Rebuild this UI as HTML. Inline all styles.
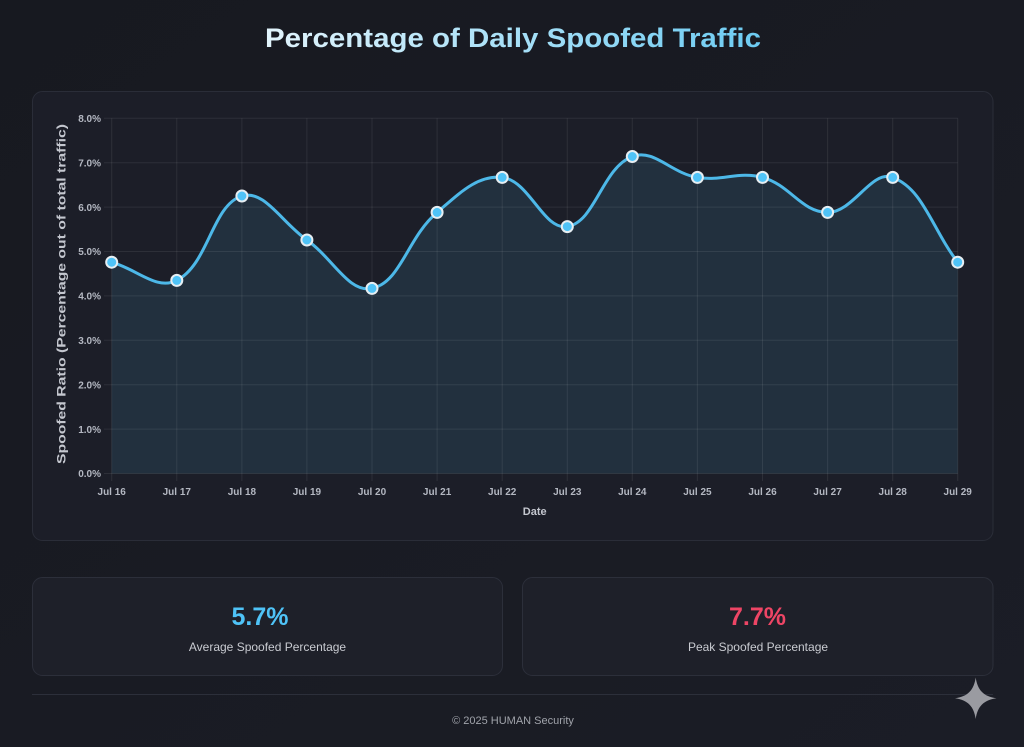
<!DOCTYPE html>
<html>
<head>
<meta charset="utf-8">
<style>
html,body{margin:0;padding:0;background:#181a22;}
body{width:1024px;height:747px;overflow:hidden;}
svg{display:block;}
</style>
</head>
<body>
<svg width="1024" height="747" viewBox="0 0 1024 747" xmlns="http://www.w3.org/2000/svg">
  <defs>
    <linearGradient id="bg" x1="0" y1="0" x2="1" y2="1">
      <stop offset="0" stop-color="#171920"/>
      <stop offset="1" stop-color="#1b1d26"/>
    </linearGradient>
    <linearGradient id="tg" x1="265" y1="0" x2="761" y2="0" gradientUnits="userSpaceOnUse">
      <stop offset="0" stop-color="#e2f4fc"/>
      <stop offset="1" stop-color="#6ccbf2"/>
    </linearGradient>
  </defs>
  <rect x="0" y="0" width="1024" height="747" fill="url(#bg)"/>

  <!-- Title -->
  <text x="513" y="47" text-anchor="middle" font-family="Liberation Sans, sans-serif" font-weight="bold" font-size="27" fill="url(#tg)" textLength="496" lengthAdjust="spacingAndGlyphs">Percentage of Daily Spoofed Traffic</text>

  <!-- Chart panel -->
  <rect x="32.5" y="91.5" width="960.5" height="449" rx="10" ry="10" fill="#1c1e28" stroke="#2a2d38" stroke-width="1"/>

  <!-- Fill area -->
  <path d="M111.7,262.2 C137.7,269.5 156.6,290.7 176.8,280.4 C208.7,264.2 211.9,205.3 241.9,196.0 C264.0,189.1 281.3,221.8 306.9,240.0 C333.3,258.8 348.7,293.3 372.0,288.4 C400.8,282.3 407.2,237.9 437.1,212.4 C459.2,193.5 477.5,174.7 502.2,177.4 C529.5,180.4 543.3,230.5 567.3,226.6 C595.4,222.1 602.0,168.0 632.3,156.5 C654.0,148.3 670.7,173.1 697.4,177.4 C722.8,181.5 738.1,170.9 762.5,177.4 C790.2,184.9 801.6,212.4 827.6,212.4 C853.6,212.4 871.4,169.3 892.7,177.4 C923.5,189.2 931.7,228.3 957.7,262.2 L957.7,473.5 L111.7,473.5 Z" fill="#22303e"/>

  <!-- Grid -->
  <g stroke="#ffffff" stroke-opacity="0.08" stroke-width="1">
    <line x1="104" y1="118.3" x2="957.7" y2="118.3"/>
    <line x1="104" y1="162.7" x2="957.7" y2="162.7"/>
    <line x1="104" y1="207.1" x2="957.7" y2="207.1"/>
    <line x1="104" y1="251.5" x2="957.7" y2="251.5"/>
    <line x1="104" y1="295.9" x2="957.7" y2="295.9"/>
    <line x1="104" y1="340.3" x2="957.7" y2="340.3"/>
    <line x1="104" y1="384.7" x2="957.7" y2="384.7"/>
    <line x1="104" y1="429.1" x2="957.7" y2="429.1"/>
    <line x1="104" y1="473.5" x2="957.7" y2="473.5"/>
    <line x1="111.7" y1="118.3" x2="111.7" y2="481"/>
    <line x1="176.8" y1="118.3" x2="176.8" y2="481"/>
    <line x1="241.9" y1="118.3" x2="241.9" y2="481"/>
    <line x1="306.9" y1="118.3" x2="306.9" y2="481"/>
    <line x1="372.0" y1="118.3" x2="372.0" y2="481"/>
    <line x1="437.1" y1="118.3" x2="437.1" y2="481"/>
    <line x1="502.2" y1="118.3" x2="502.2" y2="481"/>
    <line x1="567.3" y1="118.3" x2="567.3" y2="481"/>
    <line x1="632.3" y1="118.3" x2="632.3" y2="481"/>
    <line x1="697.4" y1="118.3" x2="697.4" y2="481"/>
    <line x1="762.5" y1="118.3" x2="762.5" y2="481"/>
    <line x1="827.6" y1="118.3" x2="827.6" y2="481"/>
    <line x1="892.7" y1="118.3" x2="892.7" y2="481"/>
    <line x1="957.7" y1="118.3" x2="957.7" y2="481"/>
  </g>

  <!-- Y tick labels -->
  <g font-family="Liberation Sans, sans-serif" font-weight="bold" font-size="10" fill="#b4b8c2" text-anchor="end">
    <text x="101" y="122">8.0%</text>
    <text x="101" y="166.4">7.0%</text>
    <text x="101" y="210.8">6.0%</text>
    <text x="101" y="255.2">5.0%</text>
    <text x="101" y="299.6">4.0%</text>
    <text x="101" y="344">3.0%</text>
    <text x="101" y="388.4">2.0%</text>
    <text x="101" y="432.8">1.0%</text>
    <text x="101" y="477.2">0.0%</text>
  </g>

  <!-- X tick labels -->
  <g font-family="Liberation Sans, sans-serif" font-weight="bold" font-size="10" fill="#b4b8c2" text-anchor="middle">
    <text x="111.7" y="495">Jul 16</text>
    <text x="176.8" y="495">Jul 17</text>
    <text x="241.9" y="495">Jul 18</text>
    <text x="306.9" y="495">Jul 19</text>
    <text x="372.0" y="495">Jul 20</text>
    <text x="437.1" y="495">Jul 21</text>
    <text x="502.2" y="495">Jul 22</text>
    <text x="567.3" y="495">Jul 23</text>
    <text x="632.3" y="495">Jul 24</text>
    <text x="697.4" y="495">Jul 25</text>
    <text x="762.5" y="495">Jul 26</text>
    <text x="827.6" y="495">Jul 27</text>
    <text x="892.7" y="495">Jul 28</text>
    <text x="957.7" y="495">Jul 29</text>
  </g>

  <!-- Axis titles -->
  <text x="534.7" y="515" text-anchor="middle" font-family="Liberation Sans, sans-serif" font-weight="bold" font-size="11" fill="#c4c7cf">Date</text>
  <text transform="translate(65.5,294) rotate(-90)" x="0" y="0" text-anchor="middle" font-family="Liberation Sans, sans-serif" font-weight="bold" font-size="12" fill="#c4c7cf" textLength="340" lengthAdjust="spacingAndGlyphs">Spoofed Ratio (Percentage out of total traffic)</text>

  <!-- Line -->
  <path d="M111.7,262.2 C137.7,269.5 156.6,290.7 176.8,280.4 C208.7,264.2 211.9,205.3 241.9,196.0 C264.0,189.1 281.3,221.8 306.9,240.0 C333.3,258.8 348.7,293.3 372.0,288.4 C400.8,282.3 407.2,237.9 437.1,212.4 C459.2,193.5 477.5,174.7 502.2,177.4 C529.5,180.4 543.3,230.5 567.3,226.6 C595.4,222.1 602.0,168.0 632.3,156.5 C654.0,148.3 670.7,173.1 697.4,177.4 C722.8,181.5 738.1,170.9 762.5,177.4 C790.2,184.9 801.6,212.4 827.6,212.4 C853.6,212.4 871.4,169.3 892.7,177.4 C923.5,189.2 931.7,228.3 957.7,262.2" fill="none" stroke="#4db8e8" stroke-width="3" stroke-linecap="round" stroke-linejoin="round"/>

  <!-- Points -->
  <g fill="#4fc3f7" stroke="#e6eef2" stroke-width="2">
    <circle cx="111.7" cy="262.2" r="5.5"/>
    <circle cx="176.8" cy="280.4" r="5.5"/>
    <circle cx="241.9" cy="196.0" r="5.5"/>
    <circle cx="306.9" cy="240.0" r="5.5"/>
    <circle cx="372.0" cy="288.4" r="5.5"/>
    <circle cx="437.1" cy="212.4" r="5.5"/>
    <circle cx="502.2" cy="177.4" r="5.5"/>
    <circle cx="567.3" cy="226.6" r="5.5"/>
    <circle cx="632.3" cy="156.5" r="5.5"/>
    <circle cx="697.4" cy="177.4" r="5.5"/>
    <circle cx="762.5" cy="177.4" r="5.5"/>
    <circle cx="827.6" cy="212.4" r="5.5"/>
    <circle cx="892.7" cy="177.4" r="5.5"/>
    <circle cx="957.7" cy="262.2" r="5.5"/>
  </g>

  <!-- Stat cards -->
  <rect x="32.5" y="577.5" width="470" height="98" rx="10" ry="10" fill="#1e2029" stroke="#2c2f3a" stroke-width="1"/>
  <rect x="522.5" y="577.5" width="470.5" height="98" rx="10" ry="10" fill="#1e2029" stroke="#2c2f3a" stroke-width="1"/>

  <text x="260" y="625" text-anchor="middle" font-family="Liberation Sans, sans-serif" font-weight="bold" font-size="25" fill="#4fc3f7">5.7%</text>
  <text x="267.5" y="651" text-anchor="middle" font-family="Liberation Sans, sans-serif" font-size="12" fill="#c9cbd1">Average Spoofed Percentage</text>

  <text x="757.5" y="625" text-anchor="middle" font-family="Liberation Sans, sans-serif" font-weight="bold" font-size="25" fill="#ee4565">7.7%</text>
  <text x="758" y="651" text-anchor="middle" font-family="Liberation Sans, sans-serif" font-size="12" fill="#c9cbd1">Peak Spoofed Percentage</text>

  <!-- Divider -->
  <line x1="32" y1="694.5" x2="993" y2="694.5" stroke="#2c2f3a" stroke-width="1"/>

  <!-- Footer -->
  <text x="513" y="724" text-anchor="middle" font-family="Liberation Sans, sans-serif" font-size="11" fill="#a0a3aa">© 2025 HUMAN Security</text>

  <!-- Sparkle -->
  <path d="M975.7,677.5 C977.5,690 983.5,696.5 996.5,698.3 C983.5,700.1 977.5,706.6 975.7,719 C973.9,706.6 967.9,700.1 955,698.3 C967.9,696.5 973.9,690 975.7,677.5 Z" fill="#9a9ba1"/>
</svg>
</body>
</html>
